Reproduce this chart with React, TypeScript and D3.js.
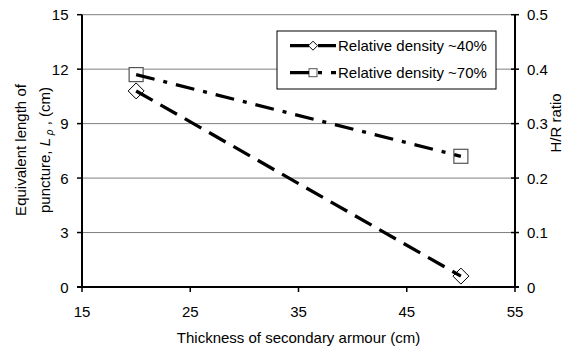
import React from "react";
import * as d3 from "d3";

const thickness = [20, 50];
const density40 = [10.8, 0.6];
const density70 = [11.7, 7.2];
const seriesNames = ["Relative density ~40%", "Relative density ~70%"];
const xTicks = [15, 25, 35, 45, 55];
const yTicks = [0, 3, 6, 9, 12, 15];
const y2Ticks = [0, 0.1, 0.2, 0.3, 0.4, 0.5];

const W = 571;
const H = 352;
const M = { left: 82, right: 515, top: 14.7, bottom: 287 };
const FONT = "Liberation Sans, Arial, sans-serif";
const FS = 15;

export default function App() {
  const x = d3.scaleLinear().domain([15, 55]).range([M.left, M.right]);
  const y = d3.scaleLinear().domain([0, 15]).range([M.bottom, M.top]);
  const y2 = d3.scaleLinear().domain([0, 0.5]).range([M.bottom, M.top]);

  const line = d3
    .line<[number, number]>()
    .x((d) => x(d[0]))
    .y((d) => y(d[1]));

  const s40: [number, number][] = thickness.map((t, i) => [t, density40[i]]);
  const s70: [number, number][] = thickness.map((t, i) => [t, density70[i]]);

  const dash40 = "19,9";
  const dash70 = "19,9,4,9";

  const diamond = (cx: number, cy: number, r: number) =>
    `M${cx},${cy - r}L${cx + r},${cy}L${cx},${cy + r}L${cx - r},${cy}Z`;

  const legX0 = 290;
  const legX1 = 336;
  const legMid = 313;
  const legY = [45.7, 72.7];

  return (
    <svg
      width={W}
      height={H}
      style={{ position: "absolute", left: 0, top: 0, background: "#fff" }}
      fontFamily={FONT}
      fontSize={FS}
    >
      <rect x={0} y={0} width={W} height={H} fill="#fff" />
      {/* gridlines */}
      {yTicks
        .filter((t) => t > 0)
        .map((t) => (
          <line
            key={"g" + t}
            x1={M.left}
            x2={M.right}
            y1={y(t)}
            y2={y(t)}
            stroke="#7f7f7f"
            strokeWidth={1}
          />
        ))}
      {/* axes */}
      <line x1={M.left} x2={M.left} y1={M.top} y2={M.bottom} stroke="#000" strokeWidth={2} />
      <line x1={M.right} x2={M.right} y1={M.top} y2={M.bottom} stroke="#000" strokeWidth={2} />
      <line x1={M.left - 5} x2={M.right + 4} y1={M.bottom} y2={M.bottom} stroke="#000" strokeWidth={2} />
      {yTicks.map((t) => (
        <g key={"y" + t}>
          <line x1={M.left - 5} x2={M.left} y1={y(t)} y2={y(t)} stroke="#000" strokeWidth={1.5} />
          <text x={68.5} y={y(t)} textAnchor="end" dominantBaseline="central">
            {t}
          </text>
        </g>
      ))}
      {y2Ticks.map((t) => (
        <g key={"y2" + t}>
          <line x1={M.right - 4} x2={M.right + 4} y1={y2(t)} y2={y2(t)} stroke="#000" strokeWidth={1.5} />
          <text x={527} y={y2(t)} textAnchor="start" dominantBaseline="central">
            {d3.format("")(t)}
          </text>
        </g>
      ))}
      {xTicks.map((t) => (
        <g key={"x" + t}>
          <line x1={x(t)} x2={x(t)} y1={M.bottom} y2={M.bottom + 5} stroke="#000" strokeWidth={1.5} />
          <text x={x(t)} y={311.5} textAnchor="middle" dominantBaseline="central">
            {t}
          </text>
        </g>
      ))}
      {/* axis titles */}
      <text x={(M.left + M.right) / 2} y={343} textAnchor="middle">
        Thickness of secondary armour (cm)
      </text>
      <text transform={`translate(25.5,150) rotate(-90)`} textAnchor="middle">
        Equivalent length of
      </text>
      <text transform={`translate(49.5,150) rotate(-90)`} textAnchor="middle">
        puncture, <tspan fontStyle="italic">L</tspan>
        <tspan fontStyle="italic" fontSize={10} dy={3}> ρ</tspan>
        <tspan dy={-3}> , (cm)</tspan>
      </text>
      <text transform={`translate(561,123) rotate(-90)`} textAnchor="middle">
        H/R ratio
      </text>

      {/* markers */}
      {s40.map((d, i) => (
        <path key={"m40" + i} d={diamond(x(d[0]), y(d[1]), 8)} fill="#fff" stroke="#000" strokeWidth={1} />
      ))}
      {s70.map((d, i) => (
        <rect
          key={"m70" + i}
          x={x(d[0]) - 7}
          y={y(d[1]) - 7}
          width={14}
          height={14}
          fill="#fff"
          stroke="#555"
          strokeWidth={1.2}
        />
      ))}
      {/* lines */}
      <path d={line(s70) || ""} fill="none" stroke="#000" strokeWidth={3.3} strokeDasharray={dash70} />
      <path d={line(s40) || ""} fill="none" stroke="#000" strokeWidth={3.3} strokeDasharray={dash40} />

      {/* legend */}
      <rect x={277} y={31} width={219} height={58} fill="#fff" stroke="#000" strokeWidth={1} />
      {seriesNames.map((name, i) => (
        <g key={"leg" + i}>
          {i === 0 ? (
            <path d={diamond(legMid, legY[i], 4.5)} fill="#fff" stroke="#000" strokeWidth={1} />
          ) : (
            <rect x={legMid - 4} y={legY[i] - 4} width={8} height={8} fill="#fff" stroke="#555" strokeWidth={1} />
          )}
          <line
            x1={legX0}
            x2={legX1}
            y1={legY[i]}
            y2={legY[i]}
            stroke="#000"
            strokeWidth={3.3}
            strokeDasharray={i === 0 ? dash40 : dash70}
          />
          <text x={338} y={legY[i]} dominantBaseline="central">
            {name}
          </text>
        </g>
      ))}
    </svg>
  );
}
